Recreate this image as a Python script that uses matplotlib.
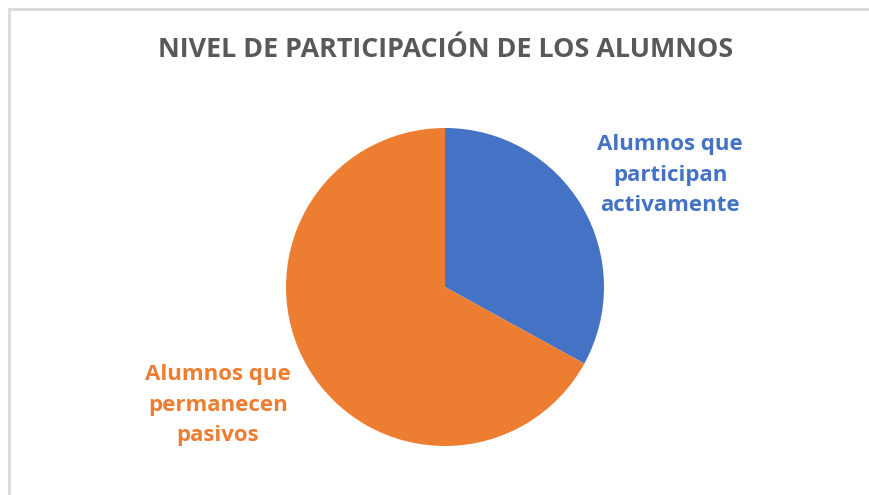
import matplotlib.pyplot as plt
from matplotlib.patches import Rectangle

plt.rcParams['font.family'] = ['Open Sans', 'DejaVu Sans']

# -- data --
title = "NIVEL DE PARTICIPACIÓN DE LOS ALUMNOS"
labels = ["Alumnos que\nparticipan\nactivamente", "Alumnos que\npermanecen\npasivos"]
values = [33, 67]
colors = ["#4472C4", "#ED7D31"]

W, H = 870, 495
fig = plt.figure(figsize=(W / 100, H / 100), dpi=100)
ax = fig.add_axes([0, 0, 1, 1])

ax.pie(values, colors=colors, startangle=90, counterclock=False,
       center=(445, H - 287), radius=159, frame=True,
       wedgeprops=dict(linewidth=0))
ax.set_xlim(0, W)
ax.set_ylim(0, H)
ax.set_aspect("auto")
ax.axis("off")

# chart frame (only top/left edges are visible in the crop)
ax.add_patch(Rectangle((9, -20), W + 40, H - 9 + 20, fill=False,
                       edgecolor="#d9d9d9", linewidth=2))

ax.text(446, H - 50, title, ha="center", va="center", fontsize=19.4,
        fontweight="bold", color="#595959")

label_pos = [(670, H - 175), (218, H - 405)]
for lab, (x, y), c in zip(labels, label_pos, colors):
    ax.text(x, y, lab, ha="center", va="center", fontsize=16,
            fontweight="bold", color=c, linespacing=1.6)

plt.savefig("out.png", dpi=100)
